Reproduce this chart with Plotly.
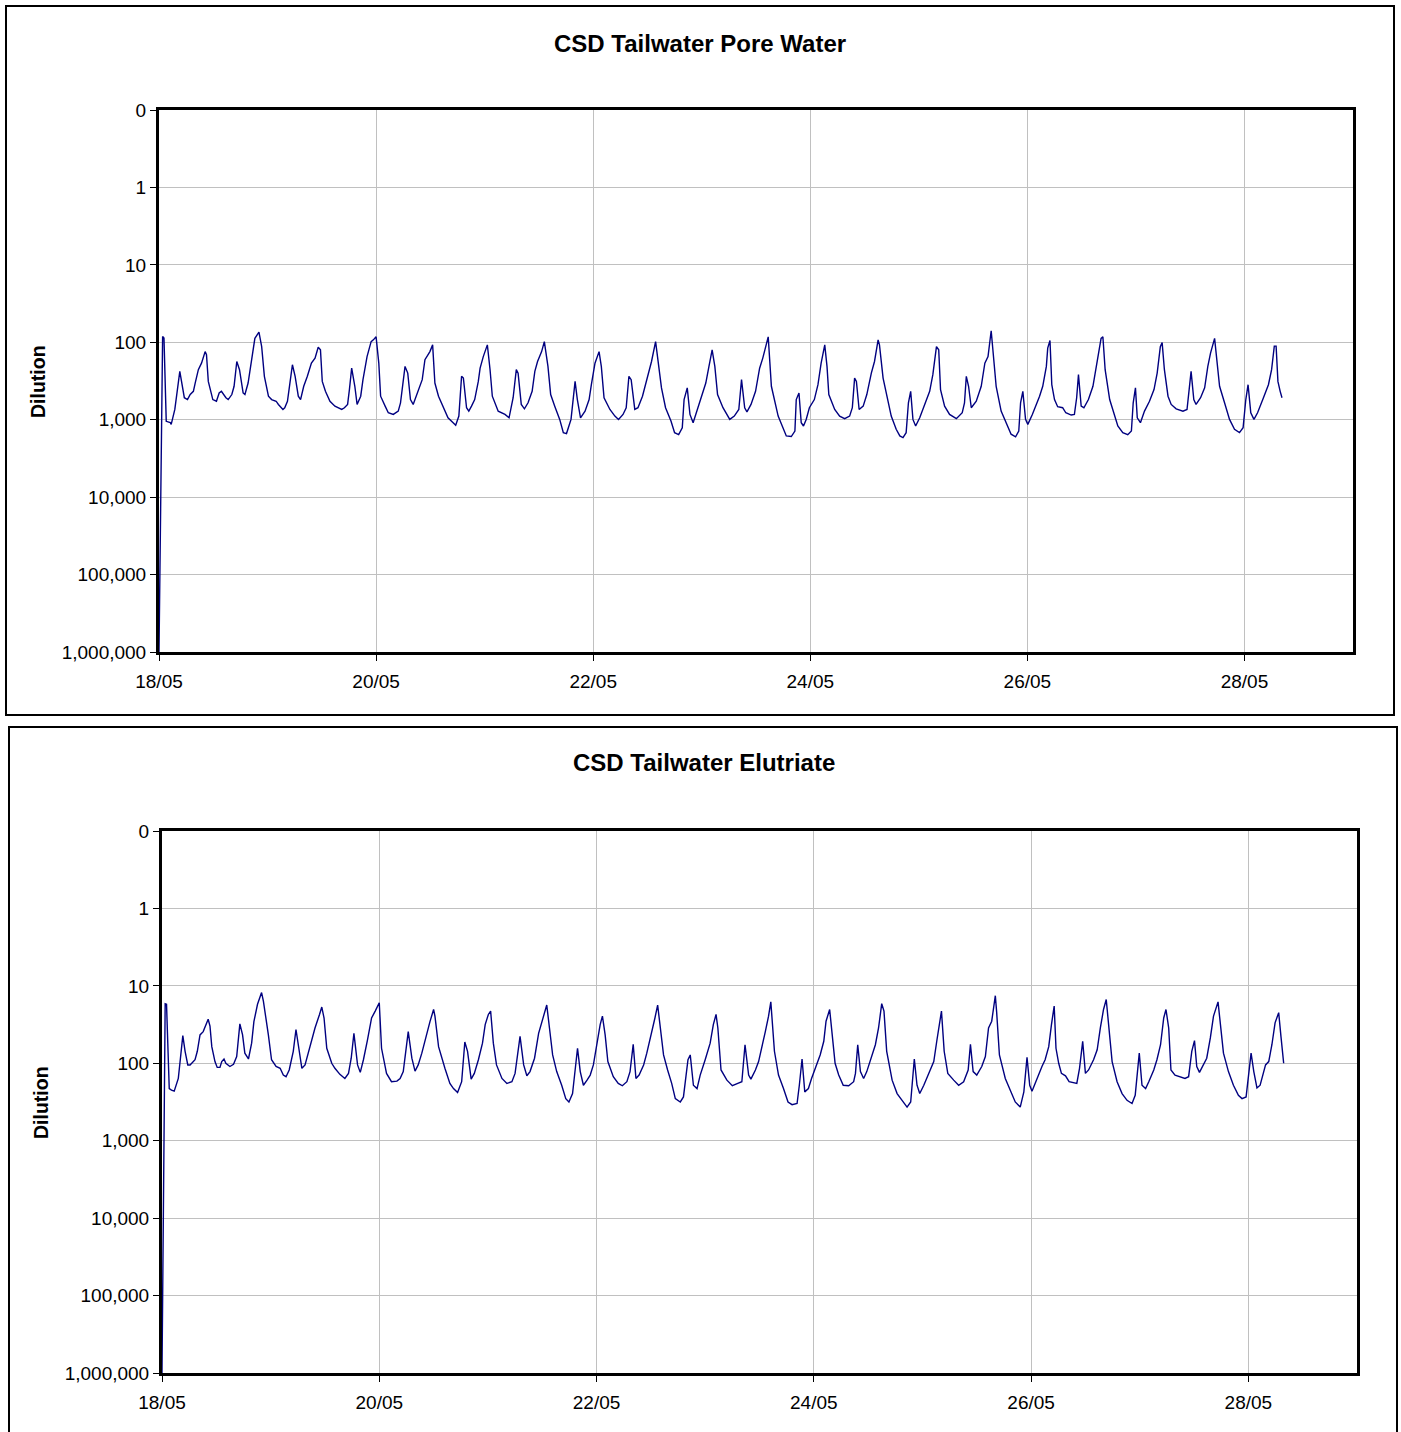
import pandas as pd
import plotly.graph_objects as go

# ---------------------------------------------------------------------------
# Data: dilution time series, hours after 18/05 00:00
# ---------------------------------------------------------------------------
START = pd.Timestamp("2006-05-18 00:00")

PORE_HOURS = [
    0, 0.8, 1.1, 1.6, 2.5, 2.7, 3.5, 4.6, 5.6, 6.3, 6.9, 7.6, 8.0, 8.7, 9.4, 10.2, 10.5, 10.9,
    11.9, 12.7, 13.3, 13.8, 14.8, 15.3, 16.1, 16.6, 17.2, 17.8, 18.6, 19.0, 19.7, 20.3, 20.8,
    21.2, 22.1, 22.7, 23.3, 24.2, 24.9, 25.9, 26.4, 27.4, 27.8, 28.4, 28.9, 29.5, 30.1, 30.8,
    31.3, 32.0, 32.8, 33.7, 34.5, 35.2, 35.7, 36.1, 36.8, 37.8, 38.9, 39.6, 40.4, 41.0, 41.7,
    42.1, 42.6, 43.3, 43.8, 44.6, 45.1, 46.0, 46.9, 47.4, 48.0, 48.6, 49.0, 50.0, 50.7, 51.8,
    52.9, 53.4, 53.9, 54.4, 55.0, 55.6, 56.2, 56.9, 57.3, 58.2, 58.8, 59.9, 60.5, 61.0, 61.8,
    62.7, 63.9, 65.6, 66.3, 66.9, 67.3, 68.0, 68.5, 69.1, 69.8, 70.6, 71.0, 71.7, 72.6, 73.2,
    73.7, 75.0, 76.5, 77.4, 78.3, 79.0, 79.4, 80.1, 80.8, 81.6, 82.5, 83.1, 83.7, 84.6, 85.2,
    86.0, 86.6, 87.5, 88.6, 89.4, 90.1, 91.1, 92.0, 92.5, 93.2, 94.2, 95.1, 95.6, 96.4, 97.3,
    97.8, 98.4, 99.7, 100.8, 101.6, 102.6, 103.3, 103.9, 104.4, 105.2, 105.9, 106.9, 107.8,
    108.9, 109.8, 110.4, 111.1, 112.0, 113.2, 114.0, 114.9, 115.7, 116.1, 116.8, 117.4, 118.1,
    118.8, 119.9, 120.9, 121.6, 122.3, 122.9, 123.5, 124.7, 126.2, 127.2, 128.2, 128.8, 129.5,
    130.0, 130.9, 131.9, 132.8, 133.5, 134.7, 135.4, 136.1, 136.9, 137.8, 138.7, 139.8, 140.6,
    140.9, 141.5, 142.0, 142.5, 143.1, 143.8, 144.9, 145.7, 146.4, 147.2, 147.7, 148.1, 149.4,
    150.5, 151.6, 152.7, 153.3, 153.8, 154.2, 154.8, 155.7, 156.5, 157.5, 158.2, 159.0, 159.3,
    160.1, 160.8, 161.9, 163.0, 163.8, 164.5, 165.2, 165.7, 166.2, 166.7, 167.3, 168.2, 169.3,
    170.4, 171.1, 171.9, 172.4, 172.8, 173.7, 174.8, 176.3, 177.6, 178.1, 178.5, 179.0, 179.6,
    180.7, 181.8, 182.6, 183.3, 184.0, 184.5, 185.1, 186.2, 187.3, 188.4, 189.4, 190.1, 190.5,
    191.0, 191.6, 192.1, 193.1, 194.0, 194.7, 195.4, 196.2, 196.5, 197.0, 197.4, 198.0, 198.7,
    199.8, 200.5, 201.7, 202.4, 202.9, 203.3, 203.9, 204.5, 205.5, 206.5, 207.2, 207.8, 208.3,
    208.7, 209.2, 210.2, 211.3, 212.0, 213.1, 214.2, 215.0, 215.4, 215.9, 216.3, 217.0, 217.9,
    219.0, 220.0, 220.7, 221.4, 221.8, 222.3, 223.1, 223.8, 224.9, 226.4, 227.3, 227.9, 228.2,
    228.8, 229.3, 230.3, 231.2, 231.9, 232.5, 233.4, 234.0, 234.5, 235.6, 236.7, 237.8, 238.9,
    239.7, 240.3, 240.8, 241.4, 242.1, 242.9, 244.2, 245.3, 246.0, 246.6, 247.0, 247.4, 247.9,
    248.3,
]
PORE_DILUTION = [
    1000000, 84, 88, 1050, 1090, 1150, 737, 238, 520, 549, 473, 430, 336, 226, 186, 132, 145, 320,
    549, 577, 451, 430, 520, 549, 473, 370, 177, 226, 451, 473, 336, 186, 125,
    89, 74, 114, 275, 497, 549, 577, 635, 737, 700, 577, 353, 195, 275, 497,
    549, 370, 275, 186, 160, 116, 125, 320, 430, 577, 668, 700, 737, 700, 635,
    408, 216, 370, 635, 497, 304, 153, 98, 93, 85, 186, 497, 668, 813, 855,
    775, 605, 370, 205, 250, 549, 635, 497, 408, 304, 168, 132, 108, 336, 497,
    668, 944, 1180, 898, 275, 290, 700, 775, 668, 549, 320, 216, 153, 108, 226,
    497, 775, 855, 944, 520, 226, 250, 635, 723, 605, 430, 238, 177, 132, 98,
    205, 473, 668, 991, 1469, 1510, 991, 320, 549, 944, 775, 549, 353, 186, 132,
    205, 520, 737, 898, 991, 855, 700, 275, 304, 737, 700, 497, 320,
    177, 98, 186, 388, 700, 1040, 1469, 1560, 1270, 549, 388, 855, 1093,
    813, 549, 336, 205, 125, 205, 473, 700, 991, 898, 737, 304, 700,
    790, 635, 430, 216, 160, 85, 370, 549, 898, 1206, 1619, 1650, 1400,
    549, 451, 1093, 1206, 991, 700, 549, 353, 186, 108, 205, 473, 737,
    898, 970, 898, 700, 290, 320, 737, 668, 473, 250, 177, 93, 108,
    290, 451, 898, 1331, 1619, 1700, 1469, 605, 430, 991, 1206, 944, 635,
    430, 262, 114, 125, 408, 668, 855, 970, 813, 605, 275, 370, 700,
    577, 370, 186, 153, 71, 138, 370, 775, 1093, 1540, 1660, 1400, 605,
    430, 991, 1150, 855, 640, 497, 370, 205, 119, 95, 353, 549, 680,
    700, 813, 870, 855, 520, 262, 668, 700, 549, 370, 205, 132, 89,
    85, 226, 549, 898, 1206, 1469, 1560, 1400, 605, 388, 944, 1093, 775,
    577, 408, 250, 114, 101, 226, 497, 635, 723, 775, 737, 388, 238,
    549, 635, 520, 388, 205, 138, 89, 177, 370, 605, 991, 1331, 1469,
    1270, 549, 353, 813, 991, 813, 520, 353, 226, 112, 112, 320, 430,
    520,
]

ELUTRIATE_HOURS = [
    0, 0.7, 1.0, 1.6, 2.1, 2.7, 3.6, 4.6, 5.1, 5.7, 6.2, 6.8, 7.3, 7.8, 8.4, 9.1, 9.7, 10.2,
    10.6, 11.0, 11.7, 12.2, 12.8, 13.2, 13.7, 14.1, 15.0, 15.8, 16.5, 17.2, 17.8, 18.3, 19.1,
    19.8, 20.3, 21.1, 22.0, 22.4, 23.5, 24.2, 25.2, 26.1, 26.8, 27.4, 28.1, 29.0, 29.6, 30.3,
    30.9, 31.6, 32.7, 33.8, 34.8, 35.3, 35.8, 36.4, 37.5, 38.2, 39.3, 40.4, 41.2, 41.8, 42.4,
    43.2, 43.8, 44.5, 45.4, 46.3, 47.1, 48.0, 48.5, 49.6, 50.7, 51.9, 52.6, 53.3, 54.4, 55.2,
    55.9, 56.6, 57.4, 58.5, 59.2, 60.0, 60.3, 61.1, 61.8, 62.5, 63.6, 64.4, 65.3, 66.2, 66.9,
    67.5, 68.3, 69.0, 69.9, 70.8, 71.4, 72.1, 72.6, 73.2, 73.9, 75.1, 76.2, 77.3, 78.0, 79.1,
    79.9, 80.6, 81.3, 82.3, 83.2, 83.9, 84.6, 85.0, 85.6, 86.3, 87.2, 88.3, 89.2, 89.9, 90.7,
    91.4, 91.8, 92.4, 93.1, 93.9, 94.6, 95.3, 96.1, 96.8, 97.3, 97.9, 98.5, 99.7, 100.8, 101.7,
    102.7, 103.4, 104.1, 104.7, 105.4, 106.4, 107.1, 108.2, 108.9, 109.5, 110.0, 110.8, 111.7,
    112.6, 113.4, 114.5, 115.2, 116.2, 116.7, 117.4, 118.2, 118.9, 120.0, 121.1, 121.8, 122.4,
    122.8, 123.5, 124.8, 126.0, 127.2, 128.1, 128.8, 129.6, 130.1, 131.1, 131.8, 132.5, 133.3,
    134.0, 134.5, 135.3, 136.2, 137.3, 138.3, 139.2, 140.3, 140.8, 141.4, 142.0, 142.8, 143.5,
    144.7, 145.4, 146.2, 146.7, 147.5, 148.0, 148.7, 149.5, 150.5, 151.7, 152.8, 153.2, 153.7,
    154.3, 155.0, 155.7, 156.8, 157.6, 158.3, 159.0, 159.5, 160.1, 161.3, 162.4, 163.5, 164.6,
    165.4, 166.2, 166.8, 167.4, 168.3, 169.4, 170.5, 171.2, 172.2, 172.8, 173.6, 174.9, 176.0,
    177.1, 178.1, 178.6, 179.2, 180.0, 181.1, 181.9, 182.6, 183.3, 184.1, 184.4, 185.0, 186.3,
    187.4, 188.5, 189.6, 190.4, 191.1, 191.7, 192.2, 192.9, 193.7, 194.4, 195.1, 195.9, 196.5,
    197.1, 197.5, 198.1, 198.7, 199.6, 200.4, 201.4, 202.1, 202.7, 203.4, 204.0, 204.7, 205.8,
    206.6, 207.3, 208.0, 208.6, 209.1, 209.9, 211.0, 212.1, 213.2, 214.3, 215.0, 215.5, 215.9,
    216.5, 217.3, 218.0, 219.1, 219.8, 220.6, 221.3, 221.8, 222.4, 222.9, 223.8, 224.9, 226.0,
    226.8, 227.5, 228.1, 228.6, 229.2, 230.1, 230.8, 231.6, 232.3, 233.3, 233.8, 234.5, 235.6,
    236.7, 237.8, 238.6, 239.5, 240.0, 240.6, 241.2, 241.9, 242.6, 243.8, 244.5, 245.2, 245.9,
    246.7, 247.2, 247.8,
]
ELUTRIATE_DILUTION = [
    1000000, 17.0, 17.3, 212, 222, 229, 157, 44, 70, 105, 105, 95, 90, 70, 43, 39, 32, 27,
    33, 61, 95, 113, 113, 95, 88, 100, 110, 103, 82, 31, 43, 74, 88,
    55, 29, 17.3, 12.2, 15.7, 43, 90, 110, 116, 142, 149, 122, 70, 36.6, 70,
    116, 105, 61, 35, 23.4, 18.8, 26, 64, 100, 116, 139, 157, 135, 86, 41,
    105, 131, 90, 50, 26, 21.2, 16.5, 64, 135, 173, 170, 157, 128, 39, 86,
    126, 105, 74, 41, 29, 20.2, 24.6, 61, 86, 116, 182, 212, 239, 173, 53,
    70, 160, 135, 90, 55, 31.6, 23.4, 21.2, 55, 105, 157, 182, 173, 135, 45,
    105, 145, 128, 86, 41, 29, 21.2, 17.7, 35, 78, 128, 192, 286, 316, 246,
    105, 64, 128, 192, 165, 142, 105, 55, 31.6, 24.6, 43, 95, 149, 182, 195,
    173, 128, 57, 157, 142, 105, 74, 41, 26, 17.7, 30, 78, 122,
    182, 286, 316, 272, 90, 78, 192, 212, 142, 90, 55, 31.6, 23.4,
    35, 122, 165, 195, 182, 173, 57.6, 142, 160, 122, 95, 64, 38.6,
    24.6, 16.1, 70, 142, 212, 316, 342, 331, 192, 88, 234, 212, 157,
    100, 78, 52, 28.6, 20.2, 38.6, 100, 142, 192, 195, 173, 135, 57.6,
    128, 157, 128, 82, 57.6, 35, 17, 21.2, 70, 165, 246, 301, 368,
    316, 88, 192, 246, 192, 135, 95, 50, 21.2, 70, 135, 165, 192,
    173, 122, 57, 128, 142, 110, 82, 35, 28.6, 13.4, 22.2, 78, 157,
    223, 316, 368, 234, 84, 192, 229, 180, 142, 110, 90, 61, 31.6,
    18.2, 64, 100, 135, 145, 173, 177, 182, 116, 52, 135, 122, 90,
    67, 35, 20.2, 15, 31.6, 95, 173, 246, 301, 331, 259, 116, 74,
    192, 212, 173, 122, 90, 57.6, 26, 20.2, 35, 122, 142, 149, 157,
    149, 70, 51, 110, 131, 105, 86, 47, 24.6, 16.1, 28.6, 74, 128,
    192, 259, 286, 272, 142, 74, 128, 208, 192, 105, 95, 57.6, 30,
    22.2, 45, 100,
]

TITLES = ["CSD Tailwater Pore Water", "CSD Tailwater Elutriate"]
Y_TITLE = "Dilution"
Y_TICK_VALUES = [0.1, 1, 10, 100, 1000, 10000, 100000, 1000000]
Y_TICK_LABELS = ["0", "1", "10", "100", "1,000", "10,000", "100,000", "1,000,000"]
X_TICK_DAYS = [0, 2, 4, 6, 8, 10]
X_TICK_LABELS = ["18/05", "20/05", "22/05", "24/05", "26/05", "28/05"]
X_SPAN_DAYS = 11

# ---------------------------------------------------------------------------
# Layout geometry (pixels of the 1401 x 1432 page)
# ---------------------------------------------------------------------------
W, H = 1401, 1432
FONT = "Liberation Sans, Arial, sans-serif"
LINE_COLOR = "#000080"
GRID_COLOR = "#c0c0c0"


def px_x(x):
    return x / W


def px_y(y):
    return 1 - y / H


def to_times(hours):
    return START + pd.to_timedelta(hours, unit="h")


panels = [
    # plot area (left, top, right, bottom), outer box, title centre, y-title centre
    dict(hours=PORE_HOURS, values=PORE_DILUTION, title=TITLES[0],
         area=(159, 110, 1353, 652), box=(6, 6, 1394, 715),
         title_xy=(700, 43), ytitle_xy=(38, 382)),
    dict(hours=ELUTRIATE_HOURS, values=ELUTRIATE_DILUTION, title=TITLES[1],
         area=(162, 831, 1357, 1373), box=(9, 727, 1397, 1440),
         title_xy=(704, 763), ytitle_xy=(41, 1103)),
]

fig = go.Figure()
shapes = []
annotations = []
x_ticks = [START + pd.Timedelta(days=d) for d in X_TICK_DAYS]
x_range = [START, START + pd.Timedelta(days=X_SPAN_DAYS)]

for i, p in enumerate(panels, start=1):
    suffix = "" if i == 1 else str(i)
    fig.add_trace(go.Scatter(
        x=to_times(p["hours"]), y=p["values"], mode="lines",
        line=dict(color=LINE_COLOR, width=1.4),
        xaxis="x" + suffix, yaxis="y" + suffix, showlegend=False,
        hoverinfo="x+y",
    ))
    left, top, right, bottom = p["area"]
    axis_common = dict(
        showgrid=True, gridcolor=GRID_COLOR, gridwidth=1,
        showline=True, linecolor="black", linewidth=3, mirror=True,
        ticks="outside", ticklen=6, tickwidth=1, tickcolor="black",
        tickfont=dict(family=FONT, size=19, color="black"),
        zeroline=False, automargin=False,
    )
    fig.update_layout(**{
        "xaxis" + suffix: dict(
            axis_common, type="date", range=x_range,
            tickvals=x_ticks, ticktext=X_TICK_LABELS,
            ticklabelstandoff=4,
            domain=[px_x(left), px_x(right)],
            anchor="y" + suffix,
        ),
        "yaxis" + suffix: dict(
            axis_common, type="log", range=[6, -1],
            tickvals=Y_TICK_VALUES, ticktext=Y_TICK_LABELS,
            domain=[px_y(bottom), px_y(top)],
            anchor="x" + suffix,
        ),
    })
    bx0, by0, bx1, by1 = p["box"]
    shapes.append(dict(
        type="rect", xref="paper", yref="paper",
        x0=px_x(bx0), x1=px_x(bx1), y0=px_y(by1), y1=px_y(by0),
        line=dict(color="black", width=2), fillcolor="rgba(0,0,0,0)", layer="below",
    ))
    tx, ty = p["title_xy"]
    annotations.append(dict(
        text="<b>%s</b>" % p["title"], xref="paper", yref="paper",
        x=px_x(tx), y=px_y(ty), xanchor="center", yanchor="middle",
        showarrow=False, font=dict(family=FONT, size=24, color="black"),
    ))
    yx, yy = p["ytitle_xy"]
    annotations.append(dict(
        text="<b>%s</b>" % Y_TITLE, xref="paper", yref="paper",
        x=px_x(yx), y=px_y(yy), xanchor="center", yanchor="middle",
        textangle=-90, showarrow=False,
        font=dict(family=FONT, size=19.5, color="black"),
    ))

fig.update_layout(
    template="none",
    width=W, height=H,
    margin=dict(l=0, r=0, t=0, b=0, autoexpand=False),
    paper_bgcolor="white", plot_bgcolor="white",
    shapes=shapes, annotations=annotations,
    font=dict(family=FONT, color="black"),
)

fig.write_html("out.html")
